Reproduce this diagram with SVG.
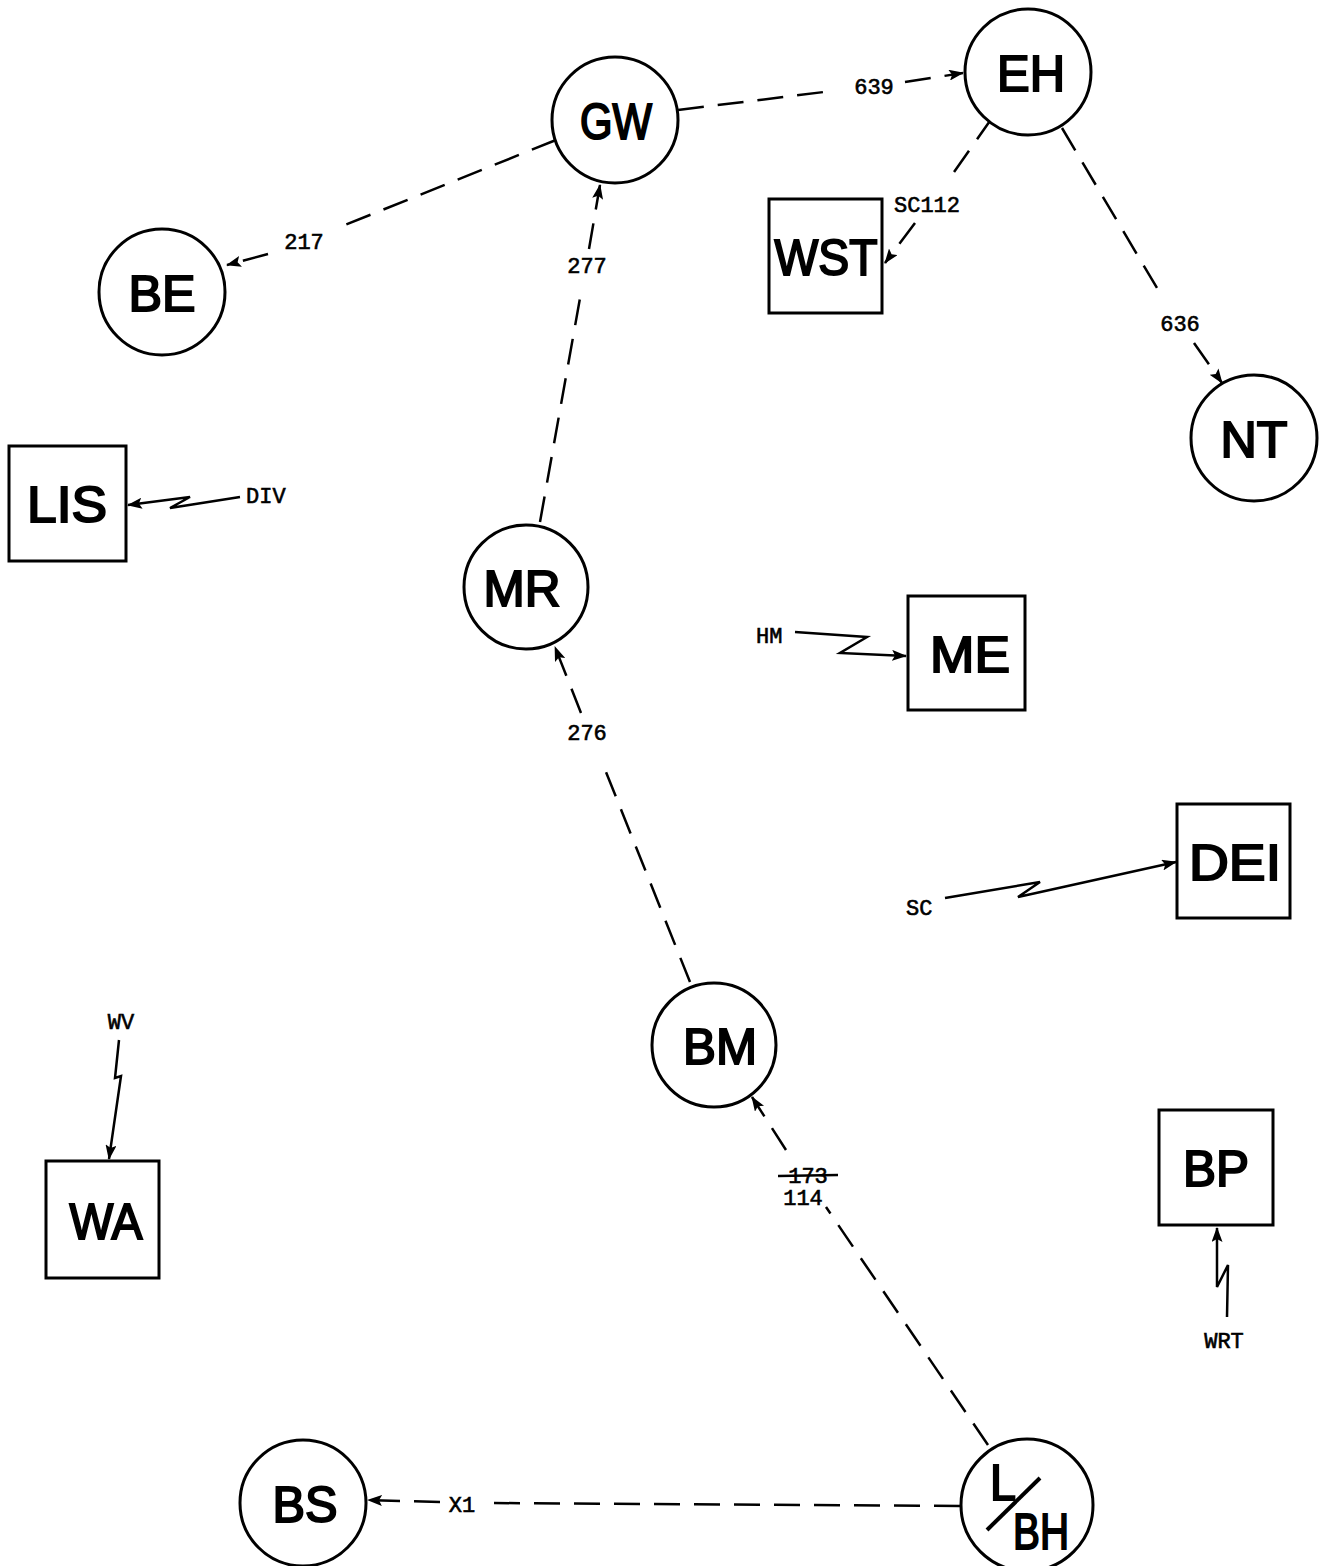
<svg xmlns="http://www.w3.org/2000/svg" width="1327" height="1566" viewBox="0 0 1327 1566">
<style>
.node{fill:#fff;stroke:#000;stroke-width:3}
.lbl{font-family:"Liberation Sans",Arial,sans-serif;font-size:50px;text-anchor:middle;fill:#000;stroke:#000;stroke-width:2;lengthAdjust:spacingAndGlyphs}
.el{font-family:"Liberation Mono","DejaVu Sans Mono",monospace;font-size:22px;fill:#000;stroke:#000;stroke-width:0.6}
.dash{fill:none;stroke:#000;stroke-width:2.5;stroke-dasharray:26 14}
.solid{fill:none;stroke:#000;stroke-width:2.5}
</style>
<defs>
<marker id="ah" markerUnits="userSpaceOnUse" markerWidth="15" markerHeight="11" refX="14" refY="5.5" orient="auto">
<path d="M0,0 L15,5.5 L0,11 L3,5.5 z" fill="#000"/>
</marker>
</defs>
<rect width="1327" height="1566" fill="#fff"/>
<g id="connectors">
<path class="dash" d="M678,110 L832,91"/>
<path class="dash" d="M905,82 L963,73" marker-end="url(#ah)"/>
<path class="dash" d="M556,140 L345,225"/>
<path class="dash" d="M268,254 L227,265" marker-end="url(#ah)"/>
<path class="dash" d="M540,522 L582,287"/>
<path class="dash" d="M589,249 L600,185" marker-end="url(#ah)"/>
<path class="dash" d="M690,982 L602,762"/>
<path class="dash" d="M581,713 L555,647" marker-end="url(#ah)"/>
<path class="dash" d="M988,1445 L826,1207"/>
<path class="dash" d="M786,1150 L752,1097" marker-end="url(#ah)"/>
<path class="dash" d="M992,118 L947,182"/>
<path class="dash" d="M915,223 L885,263" marker-end="url(#ah)"/>
<path class="dash" d="M1062,128 L1160,293"/>
<path class="dash" d="M1194,343 L1222,383" marker-end="url(#ah)"/>
<path class="dash" d="M960,1506 L490,1503"/>
<path class="dash" d="M440,1502 L368,1500" marker-end="url(#ah)"/>
<path class="solid" d="M240,497 L170,508 L190,497 L128,505" marker-end="url(#ah)"/>
<path class="solid" d="M795,632 L867,637 L840,653 L906,656" marker-end="url(#ah)"/>
<path class="solid" d="M945,898 L1040,882 L1018,897 L1176,862" marker-end="url(#ah)"/>
<path class="solid" d="M119,1040 L115,1078 L121,1076 L109,1159" marker-end="url(#ah)"/>
<path class="solid" d="M1227,1317 L1228,1265 L1217,1287 L1217,1228" marker-end="url(#ah)"/>
</g>
<g id="labels">
<text class="el" x="874" y="94" text-anchor="middle">639</text>
<text class="el" x="304" y="249" text-anchor="middle">217</text>
<text class="el" x="587" y="273" text-anchor="middle">277</text>
<text class="el" x="587" y="740" text-anchor="middle">276</text>
<text class="el" x="927" y="212" text-anchor="middle">SC112</text>
<text class="el" x="1180" y="331" text-anchor="middle">636</text>
<text class="el" x="462" y="1512" text-anchor="middle">X1</text>
<text class="el" x="808" y="1183" text-anchor="middle">173</text>
<line x1="778" y1="1176" x2="838" y2="1175" stroke="#000" stroke-width="2.5"/>
<text class="el" x="803" y="1205" text-anchor="middle">114</text>
<text class="el" x="246" y="503">DIV</text>
<text class="el" x="756" y="643">HM</text>
<text class="el" x="906" y="915">SC</text>
<text class="el" x="121" y="1029" text-anchor="middle">WV</text>
<text class="el" x="1224" y="1348" text-anchor="middle">WRT</text>
</g>
<g id="GW"><circle class="node" cx="615" cy="120" r="63"/><text class="lbl" x="616" y="139" textLength="72" lengthAdjust="spacingAndGlyphs">GW</text></g>
<g id="EH"><circle class="node" cx="1028" cy="72" r="63"/><text class="lbl" x="1031" y="91" textLength="68" lengthAdjust="spacingAndGlyphs">EH</text></g>
<g id="BE"><circle class="node" cx="162" cy="292" r="63"/><text class="lbl" x="162" y="311" textLength="67" lengthAdjust="spacingAndGlyphs">BE</text></g>
<g id="NT"><circle class="node" cx="1254" cy="438" r="63"/><text class="lbl" x="1254" y="457" textLength="67" lengthAdjust="spacingAndGlyphs">NT</text></g>
<g id="MR"><circle class="node" cx="526" cy="587" r="62"/><text class="lbl" x="522" y="606" textLength="77" lengthAdjust="spacingAndGlyphs">MR</text></g>
<g id="BM"><circle class="node" cx="714" cy="1045" r="62"/><text class="lbl" x="720" y="1064" textLength="74" lengthAdjust="spacingAndGlyphs">BM</text></g>
<g id="BS"><circle class="node" cx="303" cy="1503" r="63"/><text class="lbl" x="305" y="1522" textLength="65" lengthAdjust="spacingAndGlyphs">BS</text></g>
<g id="LBH"><circle class="node" cx="1027" cy="1505" r="66"/>
<text class="lbl" x="1003" y="1500" textLength="26" lengthAdjust="spacingAndGlyphs">L</text>
<line x1="987" y1="1530" x2="1040" y2="1478" stroke="#000" stroke-width="4"/>
<text class="lbl" x="1041" y="1549" textLength="56" lengthAdjust="spacingAndGlyphs">BH</text></g>
<g id="WST"><rect class="node" x="769" y="199" width="113" height="114"/><text class="lbl" x="826" y="275" textLength="103" lengthAdjust="spacingAndGlyphs">WST</text></g>
<g id="LIS"><rect class="node" x="9" y="446" width="117" height="115"/><text class="lbl" x="67" y="522" textLength="80" lengthAdjust="spacingAndGlyphs">LIS</text></g>
<g id="ME"><rect class="node" x="908" y="596" width="117" height="114"/><text class="lbl" x="970" y="672" textLength="80" lengthAdjust="spacingAndGlyphs">ME</text></g>
<g id="DEI"><rect class="node" x="1177" y="804" width="113" height="114"/><text class="lbl" x="1235" y="880" textLength="92" lengthAdjust="spacingAndGlyphs">DEI</text></g>
<g id="WA"><rect class="node" x="46" y="1161" width="113" height="117"/><text class="lbl" x="106" y="1239" textLength="73" lengthAdjust="spacingAndGlyphs">WA</text></g>
<g id="BP"><rect class="node" x="1159" y="1110" width="114" height="115"/><text class="lbl" x="1216" y="1186" textLength="66" lengthAdjust="spacingAndGlyphs">BP</text></g>
</svg>
